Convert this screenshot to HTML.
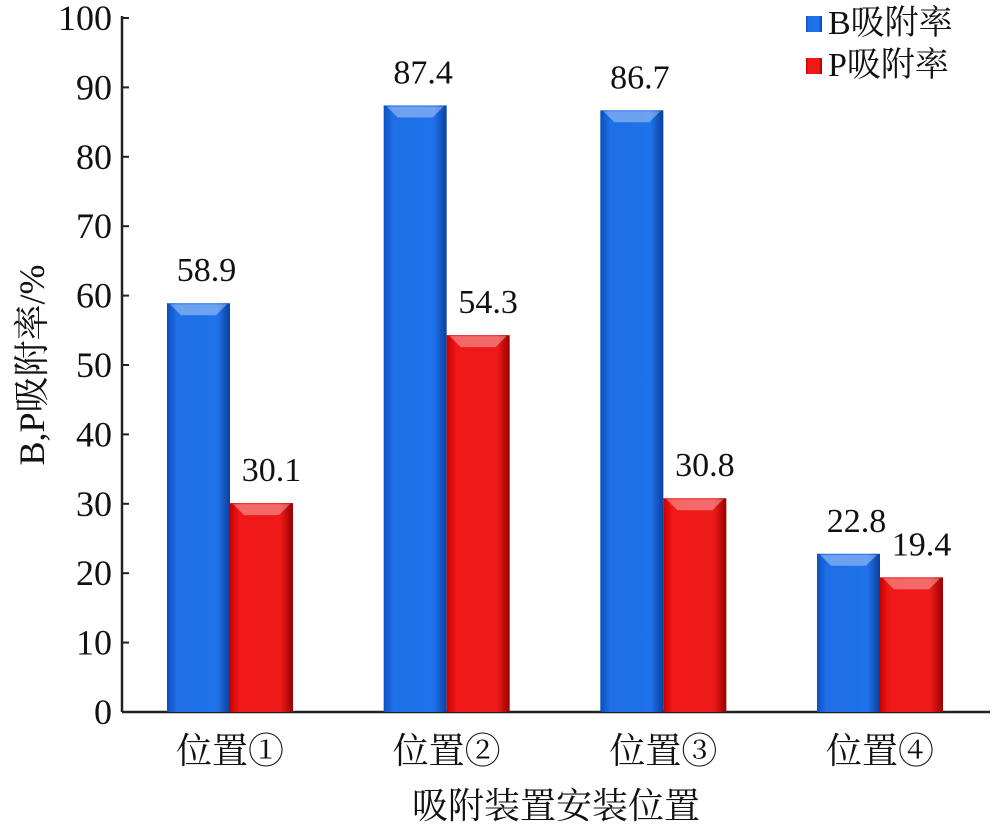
<!DOCTYPE html>
<html><head><meta charset="utf-8"><style>
html,body{margin:0;padding:0;background:#fff;width:1000px;height:833px;overflow:hidden}
text{font-family:"Liberation Serif","Noto Serif CJK SC",serif;fill:#111}
</style></head><body>
<svg id="chart" width="1000" height="833" viewBox="0 0 1000 833" xmlns="http://www.w3.org/2000/svg">
<defs>
<linearGradient id="gb" x1="0" x2="1" y1="0" y2="0"><stop offset="0" stop-color="#0a4fc0"/><stop offset="0.15" stop-color="#1f6fe6"/><stop offset="0.8" stop-color="#1f72ea"/><stop offset="1" stop-color="#0b3f9e"/></linearGradient>
<linearGradient id="gr" x1="0" x2="1" y1="0" y2="0"><stop offset="0" stop-color="#c00"/><stop offset="0.15" stop-color="#f01818"/><stop offset="0.8" stop-color="#ee1a1a"/><stop offset="1" stop-color="#900"/></linearGradient>
</defs>
</svg>
<script>
const categories=["位置①","位置②","位置③","位置④"];
const bValues=[58.9,87.4,86.7,22.8];
const pValues=[30.1,54.3,30.8,19.4];
const yTicks=[0,10,20,30,40,50,60,70,80,90,100];
const svg=document.getElementById('chart');
const NS='http://www.w3.org/2000/svg';
const x0=122,y0=712,yTop=18,plotRight=990;
const yScale=v=>y0-(v/100)*(y0-yTop);
const groupCenters=[230,447,664,880];
const xCenter=i=>groupCenters[0]+i*((groupCenters[3]-groupCenters[0])/3);
const bw=63;
function mk(tag,attrs,parent){const e=document.createElementNS(NS,tag);for(const k in attrs)e.setAttribute(k,attrs[k]);(parent||svg).appendChild(e);return e;}
// axes
const ya=mk('line',{x1:x0,y1:yTop-2,x2:x0,y2:y0,stroke:'#222','stroke-width':2.5});


const xa=mk('line',{x1:x0,y1:y0,x2:plotRight,y2:y0,stroke:'#222','stroke-width':2.5});


yTicks.forEach(t=>{
  const y=yScale(t);
  const tk=mk('line',{x1:x0,y1:y,x2:x0+7,y2:y,stroke:'#222','stroke-width':2});
  
  
  const tl=mk('text',{x:x0-10,y:y+12,'text-anchor':'end','font-size':36});
  tl.textContent=t;
  
  
});
function bar(cx,v,fill,name){
  const top=yScale(v),h=y0-top;
  const g=mk('g',{});
  
  
  mk('rect',{x:cx,y:top,width:bw,height:h,fill:fill},g);
  mk('polygon',{points:`${cx+3},${top+1} ${cx+bw-3},${top+1} ${cx+bw-14},${top+12} ${cx+14},${top+12}`,fill:'rgba(255,255,255,0.35)'},g);
  return top;
}
function label(x,y,v,name){
  const t=mk('text',{x:x,y:y,'text-anchor':'middle','font-size':34});
  t.textContent=v;
  
  
}
categories.forEach((c,i)=>{
  const cx=xCenter(i);
  const tb=bar(cx-bw,bValues[i],'url(#gb)','bar-b-'+(i+1));
  const tr=bar(cx,pValues[i],'url(#gr)','bar-p-'+(i+1));
  label(cx-bw/2+8,tb-22,bValues[i].toFixed(1),'value-label-b-'+(i+1));
  label(cx+bw/2+10,tr-22,pValues[i].toFixed(1),'value-label-p-'+(i+1));
  const cl=mk('text',{x:cx,y:763,'text-anchor':'middle','font-size':36});
  cl.textContent=c;
  
  
});
const xt=mk('text',{x:556,y:818,'text-anchor':'middle','font-size':36});
xt.textContent='吸附装置安装位置';


const yt=mk('text',{x:0,y:0,'text-anchor':'middle','font-size':36,transform:'translate(44,365) rotate(-90)'});
yt.textContent='B,P吸附率/%';


// legend
[['B吸附率','url(#gb)',30],['P吸附率','url(#gr)',72]].forEach((l,i)=>{
  const g=mk('g',{});
  
  
  mk('rect',{x:806,y:l[2]-14,width:16,height:16,fill:l[1]},g);
  const t=mk('text',{x:828,y:l[2]+4,'font-size':34},g);
  t.textContent=l[0];
});
</script>
</body></html>
